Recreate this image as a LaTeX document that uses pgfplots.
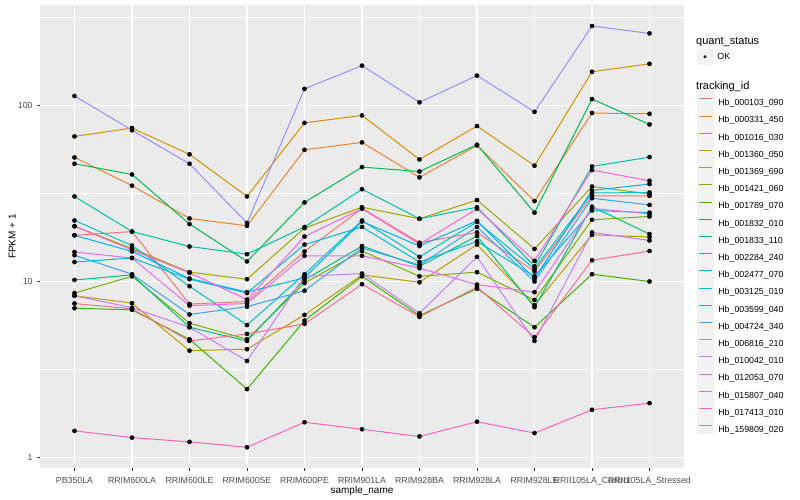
\documentclass[border=0pt]{standalone}
\usepackage{fontspec}
\setmainfont{Liberation Sans}
\usepackage{pgfplots}
\usepackage{pgfplotstable}
\pgfplotsset{compat=1.18}

\definecolor{c1}{HTML}{F8766D}
\definecolor{c2}{HTML}{EA8331}
\definecolor{c3}{HTML}{D89000}
\definecolor{c4}{HTML}{C09B00}
\definecolor{c5}{HTML}{A3A500}
\definecolor{c6}{HTML}{7CAE00}
\definecolor{c7}{HTML}{39B600}
\definecolor{c8}{HTML}{00BB4E}
\definecolor{c9}{HTML}{00BF7D}
\definecolor{c10}{HTML}{00C1A3}
\definecolor{c11}{HTML}{00BFC4}
\definecolor{c12}{HTML}{00BAE0}
\definecolor{c13}{HTML}{00B0F6}
\definecolor{c14}{HTML}{35A2FF}
\definecolor{c15}{HTML}{9590FF}
\definecolor{c16}{HTML}{C77CFF}
\definecolor{c17}{HTML}{E76BF3}
\definecolor{c18}{HTML}{FA62DB}
\definecolor{c19}{HTML}{FF62BC}
\definecolor{c20}{HTML}{FF6C91}
\definecolor{panel}{HTML}{EBEBEB}
\definecolor{keybg}{HTML}{F2F2F2}
\definecolor{gray30}{HTML}{4D4D4D}
\definecolor{gray20}{HTML}{333333}

% FPKM + 1, one row per sample, one column per tracking_id (legend order)
\pgfplotstableread{
x  s1   s2   s3    s4   s5   s6   s7   s8    s9   s10  s11  s12  s13  s14  s15   s16  s17  s18  s19   s20
0  18.3 50.6 66.6  8.3  20.6 8.6  7.06 46.6  10.2 30.4 22.2 12.9 18.3 14.1 113   8.3  14.7 20.6 1.42  7.5
1  19.2 35.0 74.3  7.54 15.4 10.7 6.9  40.5  10.9 19.2 16.0 13.6 14.8 11.0 72.2  7.1  13.6 15.1 1.30  7.0
2  7.45 22.8 52.7  4.05 11.3 5.8  4.7  21.2  5.5  15.8 9.4  10.3 10.4 6.5  46.6  5.5  7.3  11.2 1.23  4.6
3  7.7  20.7 30.4  4.13 10.3 4.7  2.45 13.0  4.6  14.3 5.66 8.6  8.7  7.2  21.5  3.54 7.5  7.9  1.146 5.04
4  14.8 55.9 79.5  6.46 20.1 9.8  6.0  28.1  10.2 20.4 11.0 16.2 10.5 8.87 124   10.7 14.0 18.0 1.59  5.75
5  26.0 61.6 87.6  10.9 26.4 14.9 10.7 44.6  15.9 33.4 22.2 20.4 21.9 15.5 168   11.1 14.0 25.9 1.45  9.65
6  16.6 39.0 49.3  9.9  22.7 10.7 6.4  42.1  12.2 22.7 13.8 12.9 15.9 12.4 104   6.6  11.9 16.3 1.32  6.3
7  19.0 59.2 76.3  16.2 29.0 11.3 9.1  59.8  18.1 26.4 21.8 16.9 22.1 20.4 147.5 13.8 9.6  25.9 1.60  9.3
8  11.4 28.6 45.4  7.35 15.3 7.86 5.5  24.6  7.15 12.2 11.8 10.7 10.4 10.0 91.8  4.6  8.7  13.1 1.38  4.83
9  30.6 90.4 155   18.4 34.6 22.4 11.0 108.5 26.6 45.0 31.8 25.3 32.9 29.7 282   19.0 26.0 42.9 1.87  13.2
10 30.6 89.5 172   17.9 31.4 23.4 10.0 77.9  18.6 50.8 32.0 24.6 35.7 27.2 256   17.1 24.2 37.3 2.04  14.9
}\fpkm

% legend rows: text visually centred on its baseline, boxes symmetric
\newcommand\ent[1]{\rule[-8.55pt]{0pt}{17.1pt}\raisebox{-3.2pt}{#1}}

\begin{document}
\begin{tikzpicture}
\path[use as bounding box] (0,0) rectangle (800pt,500pt);
\begin{axis}[
  at={(40pt,32pt)}, anchor=south west,
  scale only axis, width=644pt, height=463pt,
  ymode=log, log basis y=10,
  xmin=-0.6, xmax=10.6, ymin=0.874, ymax=371,
  xtick={0,...,10},
  xticklabels={PB350LA,RRIM600LA,RRIM600LE,RRIM600SE,RRIM600PE,RRIM901LA,RRIM928BA,RRIM928LA,RRIM928LE,RRII105LA\_Control,RRII105LA\_Stressed},
  ytick={1,10,100}, yticklabels={1,10,100},
  minor ytick={3.1623,31.623,316.23},
  grid=both,
  major grid style={white, line width=1.07pt},
  minor grid style={white, line width=0.53pt},
  axis background/.style={fill=panel},
  axis line style={draw=none},
  tick pos=left, tick align=outside,
  major tick length=2.75pt, minor tick length=0pt,
  tick style={gray20, line width=0.53pt},
  ticklabel style={font=\fontsize{8.8}{10}\selectfont, text=gray30, inner sep=0pt},
  xticklabel style={anchor=north, yshift=-6pt},
  yticklabel style={anchor=east, xshift=-4.5pt},
  /pgf/number format/assume math mode=true,
  xlabel={sample\_name}, ylabel={FPKM + 1},
  label style={font=\fontsize{11}{13}\selectfont, inner sep=0pt},
  every axis x label/.style={at={(axis description cs:0.5,0)}, anchor=north, yshift=-15pt},
  every axis y label/.style={at={(axis description cs:-0.0325,0.5)}, rotate=90, anchor=south},
  legend cell align=left,
  legend style={at={(axis description cs:1.0197,0.8161)}, anchor=north west,
    draw=none, fill=none, inner sep=0pt, row sep=0pt,
    font=\fontsize{8.8}{10}\selectfont,
    nodes={inner sep=0pt},
    /tikz/every odd column/.append style={column sep=4pt}},
  legend image code/.code={
    \fill[keybg] (0pt,-8.1pt) rectangle (16.5pt,8.1pt);
    \draw[#1] (1.5pt,0pt) -- (15pt,0pt);},
]
\addplot[c1,  line width=1pt] table[x=x,y=s1]  {\fpkm}; \addlegendentry{\ent{Hb\_000103\_090}}
\addplot[c2,  line width=1pt] table[x=x,y=s2]  {\fpkm}; \addlegendentry{\ent{Hb\_000331\_450}}
\addplot[c3,  line width=1pt] table[x=x,y=s3]  {\fpkm}; \addlegendentry{\ent{Hb\_001016\_030}}
\addplot[c4,  line width=1pt] table[x=x,y=s4]  {\fpkm}; \addlegendentry{\ent{Hb\_001360\_050}}
\addplot[c5,  line width=1pt] table[x=x,y=s5]  {\fpkm}; \addlegendentry{\ent{Hb\_001369\_690}}
\addplot[c6,  line width=1pt] table[x=x,y=s6]  {\fpkm}; \addlegendentry{\ent{Hb\_001421\_060}}
\addplot[c7,  line width=1pt] table[x=x,y=s7]  {\fpkm}; \addlegendentry{\ent{Hb\_001789\_070}}
\addplot[c8,  line width=1pt] table[x=x,y=s8]  {\fpkm}; \addlegendentry{\ent{Hb\_001832\_010}}
\addplot[c9,  line width=1pt] table[x=x,y=s9]  {\fpkm}; \addlegendentry{\ent{Hb\_001833\_110}}
\addplot[c10, line width=1pt] table[x=x,y=s10] {\fpkm}; \addlegendentry{\ent{Hb\_002284\_240}}
\addplot[c11, line width=1pt] table[x=x,y=s11] {\fpkm}; \addlegendentry{\ent{Hb\_002477\_070}}
\addplot[c12, line width=1pt] table[x=x,y=s12] {\fpkm}; \addlegendentry{\ent{Hb\_003125\_010}}
\addplot[c13, line width=1pt] table[x=x,y=s13] {\fpkm}; \addlegendentry{\ent{Hb\_003599\_040}}
\addplot[c14, line width=1pt] table[x=x,y=s14] {\fpkm}; \addlegendentry{\ent{Hb\_004724\_340}}
\addplot[c15, line width=1pt] table[x=x,y=s15] {\fpkm}; \addlegendentry{\ent{Hb\_006816\_210}}
\addplot[c16, line width=1pt] table[x=x,y=s16] {\fpkm}; \addlegendentry{\ent{Hb\_010042\_010}}
\addplot[c17, line width=1pt] table[x=x,y=s17] {\fpkm}; \addlegendentry{\ent{Hb\_012053\_070}}
\addplot[c18, line width=1pt] table[x=x,y=s18] {\fpkm}; \addlegendentry{\ent{Hb\_015807\_040}}
\addplot[c19, line width=1pt] table[x=x,y=s19] {\fpkm}; \addlegendentry{\ent{Hb\_017413\_010}}
\addplot[c20, line width=1pt] table[x=x,y=s20] {\fpkm}; \addlegendentry{\ent{Hb\_159809\_020}}

% points on top of all lines (quant_status = OK)
\pgfplotsinvokeforeach{1,...,20}{
  \addplot[only marks, mark=*, mark size=2.1pt, black, forget plot] table[x=x,y=s#1] {\fpkm};
}
\end{axis}
% legend titles and the quant_status key
\node[anchor=west, inner sep=0pt, font=\fontsize{11}{13}\selectfont] at (696pt,458pt) {quant\_status};
\fill[keybg] (696.7pt,435.2pt) rectangle (713.2pt,451.4pt);
\fill[black] (704.95pt,443.3pt) circle (1.6pt);
\node[anchor=west, inner sep=0pt, font=\fontsize{8.8}{10}\selectfont] at (717.2pt,443.3pt) {OK};
\node[anchor=west, inner sep=0pt, font=\fontsize{11}{13}\selectfont] at (696pt,413.8pt) {tracking\_id};
\end{tikzpicture}
\end{document}
